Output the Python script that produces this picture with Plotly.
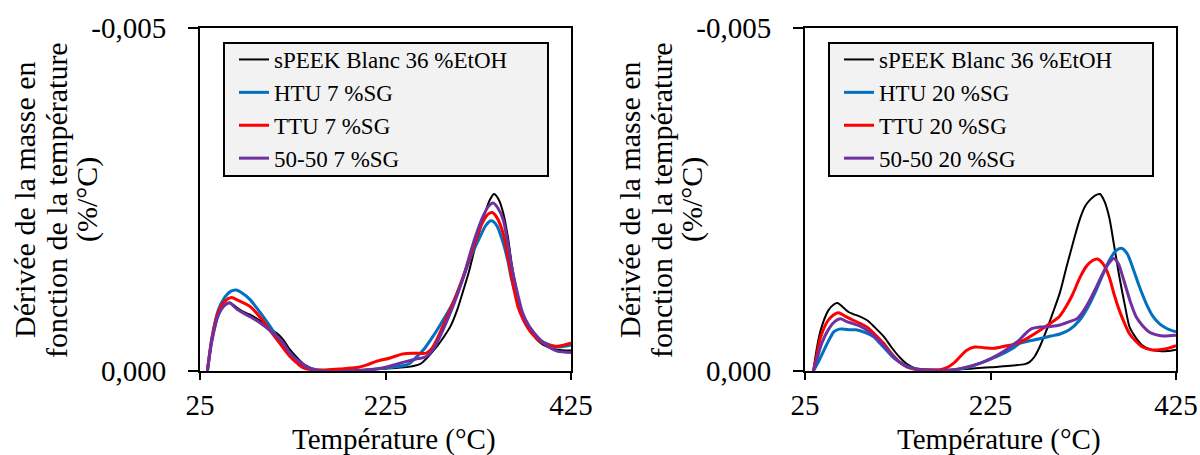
import plotly.graph_objects as go

# ---------------- Data (left panel: 7 %SG) ----------------
left_black_T = [33, 38, 45, 52, 57, 65, 72, 79, 90, 100, 108, 115, 122, 130, 138, 151, 176, 200, 230, 250, 262, 266, 273, 280, 288, 295, 302, 309, 315, 320, 326, 331, 337, 342, 347, 352, 357, 361, 366, 370, 375, 381, 388, 395, 410, 425]
left_black_D = [0, -0.00045, -0.00082, -0.00097, -0.00100, -0.00092, -0.00086, -0.00082, -0.00073, -0.00062, -0.00055, -0.00045, -0.00031, -0.00019, -0.00009, -0.000015, 0, -0.00001, -0.00004, -0.00006, -0.00010, -0.00014, -0.00024, -0.00035, -0.00050, -0.00065, -0.00088, -0.00118, -0.00145, -0.00172, -0.00202, -0.00225, -0.00248, -0.00258, -0.00250, -0.00230, -0.00195, -0.00157, -0.00120, -0.00094, -0.00075, -0.00060, -0.00046, -0.00038, -0.00031, -0.00030]

left_htu_T = [33, 38, 45, 52, 58, 64, 70, 79, 90, 100, 110, 122, 130, 140, 150, 170, 200, 230, 245, 251, 258, 266, 276, 287, 298, 309, 318, 327, 333, 339, 345, 352, 357, 361, 367, 374, 382, 392, 400, 410, 425]
left_htu_D = [0, -0.00050, -0.00090, -0.00108, -0.00116, -0.00118, -0.00114, -0.00104, -0.00085, -0.00066, -0.00046, -0.00026, -0.00015, -0.00006, -0.00002, 0, -0.00001, -0.00005, -0.00008, -0.00011, -0.00020, -0.00031, -0.00050, -0.00074, -0.00100, -0.00137, -0.00170, -0.00196, -0.00212, -0.00219, -0.00212, -0.00186, -0.00160, -0.00133, -0.00103, -0.00074, -0.00057, -0.00045, -0.00039, -0.00035, -0.00038]

left_ttu_T = [33, 38, 45, 52, 59, 66, 79, 90, 100, 110, 122, 130, 136, 145, 158, 175, 194, 205, 215, 230, 244, 256, 269, 275, 280, 290, 302, 312, 320, 326, 331, 336, 340, 345, 352, 357, 363, 368, 374, 382, 392, 400, 410, 425]
left_ttu_D = [0, -0.00048, -0.00087, -0.00102, -0.00107, -0.00103, -0.00094, -0.00078, -0.00060, -0.00042, -0.00021, -0.00011, -0.00005, -0.00002, -0.000015, -0.00003, -0.00005, -0.00009, -0.00014, -0.00019, -0.00025, -0.00026, -0.00026, -0.00033, -0.00045, -0.00075, -0.00113, -0.00150, -0.00181, -0.00205, -0.00220, -0.00229, -0.00231, -0.00224, -0.00200, -0.00165, -0.00123, -0.00093, -0.00074, -0.00056, -0.00043, -0.00038, -0.00036, -0.00041]

left_mix_T = [33, 38, 45, 52, 57, 65, 79, 90, 104, 115, 122, 130, 140, 150, 165, 180, 200, 220, 248, 260, 269, 278, 287, 298, 309, 316, 323, 330, 336, 341, 346, 352, 357, 361, 367, 373, 380, 392, 400, 410, 425]
left_mix_D = [0, -0.00045, -0.00082, -0.00096, -0.00099, -0.00090, -0.00079, -0.00070, -0.00055, -0.00040, -0.00026, -0.00016, -0.00006, -0.00001, 0.00001, 0.000005, -0.00001, -0.00004, -0.00014, -0.00018, -0.00021, -0.00035, -0.00060, -0.00095, -0.00137, -0.00170, -0.00200, -0.00225, -0.00240, -0.00245, -0.00238, -0.00220, -0.00185, -0.00152, -0.00115, -0.00084, -0.00065, -0.00045, -0.00036, -0.00029, -0.00027]

# ---------------- Data (right panel: 20 %SG) ----------------
right_black_T = [34, 38, 42, 50, 56, 60, 66, 72, 77, 85, 92, 100, 110, 118, 127, 135, 142, 150, 163, 199, 230, 249, 262, 267, 272, 278, 285, 292, 300, 307, 314, 321, 327, 332, 338, 343, 348, 353, 358, 364, 370, 375, 382, 389, 398, 407, 416, 425]
right_black_D = [0, -0.00035, -0.00060, -0.00088, -0.00097, -0.00099, -0.00093, -0.00086, -0.00083, -0.00079, -0.00074, -0.00064, -0.00050, -0.00035, -0.00020, -0.00010, -0.00005, -0.00002, -0.00001, -0.00003, -0.00006, -0.00008, -0.00010, -0.00013, -0.00020, -0.00035, -0.00058, -0.00084, -0.00115, -0.00152, -0.00187, -0.00220, -0.00240, -0.00249, -0.00256, -0.00258, -0.00247, -0.00224, -0.00185, -0.00137, -0.00095, -0.00064, -0.00048, -0.00037, -0.00031, -0.00029, -0.00029, -0.00031]

right_htu_T = [34, 40, 46, 52, 56, 62, 67, 74, 80, 90, 99, 106, 113, 120, 127, 135, 145, 160, 181, 200, 217, 235, 250, 256, 267, 278, 290, 300, 310, 321, 330, 339, 346, 353, 360, 366, 372, 378, 385, 393, 400, 407, 415, 425]
right_htu_D = [0, -0.00015, -0.00032, -0.00048, -0.00057, -0.00061, -0.00061, -0.00060, -0.00060, -0.00056, -0.00050, -0.00040, -0.00030, -0.00020, -0.00013, -0.00007, -0.00003, -0.00001, -0.00001, -0.00005, -0.00013, -0.00023, -0.00034, -0.00040, -0.00044, -0.00047, -0.00051, -0.00054, -0.00060, -0.00074, -0.00093, -0.00118, -0.00140, -0.00161, -0.00175, -0.00179, -0.00172, -0.00152, -0.00125, -0.00098, -0.00080, -0.00069, -0.00062, -0.00057]

right_ttu_T = [34, 38, 42, 50, 56, 61, 68, 77, 85, 92, 100, 110, 118, 127, 135, 142, 155, 170, 178, 185, 193, 199, 208, 218, 228, 240, 253, 265, 278, 290, 299, 307, 314, 321, 328, 335, 341, 347, 353, 358, 364, 370, 375, 382, 389, 398, 407, 416, 425]
right_ttu_D = [0, -0.00025, -0.00050, -0.00074, -0.00082, -0.00085, -0.00080, -0.00074, -0.00069, -0.00064, -0.00054, -0.00040, -0.00026, -0.00013, -0.00006, -0.00003, -0.00002, -0.00002, -0.00005, -0.00011, -0.00022, -0.00030, -0.00035, -0.00034, -0.00033, -0.00036, -0.00040, -0.00048, -0.00059, -0.00070, -0.00079, -0.00095, -0.00113, -0.00135, -0.00152, -0.00161, -0.00163, -0.00155, -0.00137, -0.00113, -0.00088, -0.00068, -0.00054, -0.00043, -0.00035, -0.00031, -0.00031, -0.00033, -0.00037]

right_mix_T = [34, 38, 43, 50, 57, 63, 70, 77, 85, 92, 100, 110, 118, 127, 135, 145, 160, 181, 200, 217, 235, 250, 256, 263, 270, 278, 290, 300, 310, 318, 325, 332, 339, 346, 352, 358, 363, 367, 371, 376, 382, 389, 396, 403, 411, 425]
right_mix_D = [0, -0.00018, -0.00040, -0.00060, -0.00072, -0.00076, -0.00072, -0.00069, -0.00065, -0.00059, -0.00050, -0.00037, -0.00025, -0.00013, -0.00006, -0.00003, -0.00001, -0.00001, -0.00006, -0.00013, -0.00025, -0.00039, -0.00045, -0.00055, -0.00062, -0.00064, -0.00065, -0.00067, -0.00072, -0.00076, -0.00087, -0.00103, -0.00122, -0.00142, -0.00156, -0.00164, -0.00156, -0.00140, -0.00122, -0.00100, -0.00079, -0.00066, -0.00057, -0.00053, -0.00051, -0.00052]

left_names = ["sPEEK Blanc 36 %EtOH", "HTU 7 %SG", "TTU 7 %SG", "50-50 7 %SG"]
right_names = ["sPEEK Blanc 36 %EtOH", "HTU 20 %SG", "TTU 20 %SG", "50-50 20 %SG"]
colors = ["#000000", "#0070C0", "#FF0000", "#7030A0"]
widths = [2, 3, 3, 3]

x_ticks = [25, 225, 425]
y_ticks = [0, -0.005]
y_ticktext = ["0,000", "-0,005"]
x_title = "Température (°C)"
y_title_lines = ["Dérivée de la masse en", "fonction de la température", "(%/°C)"]

FONT = "Liberation Serif"
W, H = 1200, 455

fig = go.Figure()

left_series = [(left_black_T, left_black_D), (left_htu_T, left_htu_D),
               (left_ttu_T, left_ttu_D), (left_mix_T, left_mix_D)]
right_series = [(right_black_T, right_black_D), (right_htu_T, right_htu_D),
                (right_ttu_T, right_ttu_D), (right_mix_T, right_mix_D)]

for (T, D), name, c, w in zip(left_series, left_names, colors, widths):
    fig.add_trace(go.Scatter(x=T, y=D, name=name, mode="lines",
                             line=dict(color=c, width=w, shape="spline", smoothing=0.8),
                             xaxis="x", yaxis="y", legend="legend"))
for (T, D), name, c, w in zip(right_series, right_names, colors, widths):
    fig.add_trace(go.Scatter(x=T, y=D, name=name, mode="lines",
                             line=dict(color=c, width=w, shape="spline", smoothing=0.8),
                             xaxis="x2", yaxis="y2", legend="legend2"))

left_dom = [200 / W, 571 / W]
right_dom = [805 / W, 1176 / W]
y_dom = [(H - 371) / H, (H - 28) / H]

xaxis_common = dict(range=[25, 425], tickvals=x_ticks, ticks="outside", ticklen=7,
                    tickwidth=1.5, tickcolor="black", showline=True, linecolor="black",
                    linewidth=2, mirror=True, showgrid=False, zeroline=False,
                    automargin=False, ticklabelstandoff=0,
                    tickfont=dict(family=FONT, size=29, color="black"))
yaxis_common = dict(range=[0, -0.005], tickvals=y_ticks, ticktext=y_ticktext, ticks="outside",
                    ticklen=10, tickwidth=1.5, tickcolor="black", showline=True, linecolor="black",
                    linewidth=2, mirror=True, showgrid=False, zeroline=False,
                    automargin=False, ticklabelstandoff=16,
                    tickfont=dict(family=FONT, size=29, color="black"))

legend_common = dict(bgcolor="rgba(0,0,0,0)", bordercolor="rgba(0,0,0,0)", borderwidth=2,
                     font=dict(family=FONT, size=23, color="black"),
                     xanchor="left", yanchor="top", tracegroupgap=0, itemwidth=30)

# legend frames (grey box with black border) behind each legend
shapes = []
for x0 in (224, 829):
    shapes.append(dict(type="rect", xref="paper", yref="paper",
                       x0=x0 / W, x1=(x0 + 324) / W, y0=(H - 176) / H, y1=(H - 43) / H,
                       fillcolor="#F2F2F2", line=dict(color="black", width=2), layer="below"))

annotations = []
for offset in (0, 605):
    for xc, line in zip((24, 56, 87), y_title_lines):
        annotations.append(dict(text=line, x=(xc + offset) / W, y=(H - 200) / H,
                                xref="paper", yref="paper", xanchor="center", yanchor="middle",
                                textangle=-90, showarrow=False,
                                font=dict(family=FONT, size=30, color="black")))
    annotations.append(dict(text=x_title, x=(394 + offset) / W, y=(H - 439) / H,
                            xref="paper", yref="paper", xanchor="center", yanchor="middle",
                            showarrow=False, font=dict(family=FONT, size=29, color="black")))

fig.update_layout(
    width=W, height=H,
    margin=dict(l=0, r=0, t=0, b=0, autoexpand=False),
    plot_bgcolor="white", paper_bgcolor="white",
    separators=", ",
    xaxis=dict(domain=left_dom, anchor="y", **xaxis_common),
    yaxis=dict(domain=y_dom, anchor="x", **yaxis_common),
    xaxis2=dict(domain=right_dom, anchor="y2", **xaxis_common),
    yaxis2=dict(domain=y_dom, anchor="x2", **yaxis_common),
    legend=dict(x=232 / W, y=(H - 36) / H, **legend_common),
    legend2=dict(x=837 / W, y=(H - 36) / H, **legend_common),
    shapes=shapes,
    annotations=annotations,
)

fig.write_html("out.html", config={"displayModeBar": False},
               post_script="document.body.style.margin='0px';document.body.style.overflow='hidden';")
